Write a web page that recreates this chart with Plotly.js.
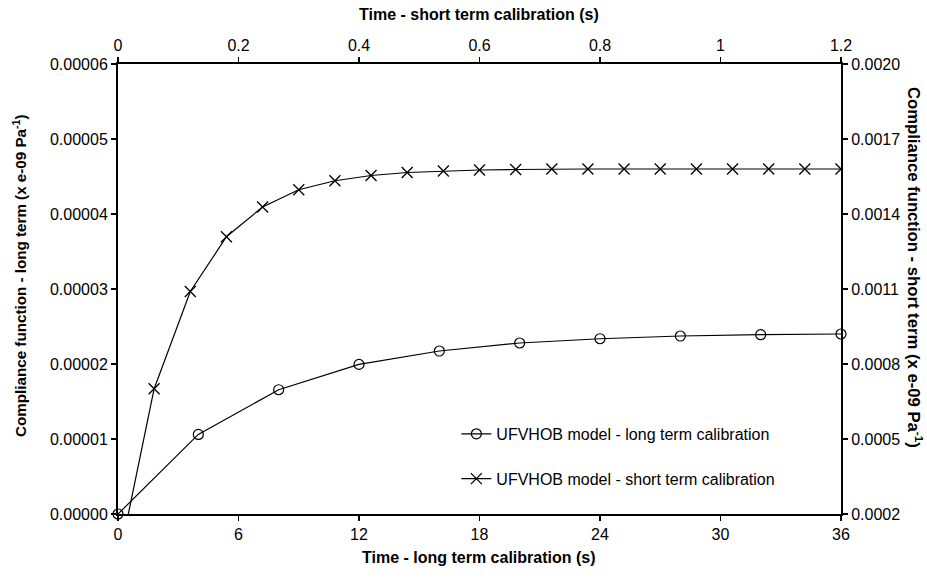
<!DOCTYPE html>
<html>
<head>
<meta charset="utf-8">
<script src="https://cdn.plot.ly/plotly-3.0.1.min.js"></script>
<style>html,body{margin:0;padding:0;background:#fff;}#chart{width:927px;height:581px;}</style>
</head>
<body>
<div id="chart"></div>
<script>
// Long term calibration (bottom x axis, left y axis)
const longTime = [0, 4, 8, 12, 16, 20, 24, 28, 32, 36];
const longCompliance = [0, 1.061e-5, 1.657e-5, 1.995e-5, 2.173e-5, 2.28e-5, 2.337e-5, 2.373e-5, 2.391e-5, 2.40e-5];

// Short term calibration (top x axis, right y axis)
const shortTime = [0, 0.06, 0.12, 0.18, 0.24, 0.30, 0.36, 0.42, 0.48, 0.54, 0.60, 0.66, 0.72, 0.78, 0.84, 0.90, 0.96, 1.02, 1.08, 1.14, 1.20];
const shortCompliance = [0, 0.000701, 0.00109, 0.001309, 0.001428, 0.001497, 0.001533, 0.001554, 0.001566, 0.001572, 0.001576, 0.001578, 0.00158, 0.00158, 0.00158, 0.00158, 0.00158, 0.00158, 0.00158, 0.00158, 0.00158];

const leftTicks = [0, 0.00001, 0.00002, 0.00003, 0.00004, 0.00005, 0.00006];
const rightTicks = [0.0002, 0.0005, 0.0008, 0.0011, 0.0014, 0.0017, 0.0020];
const bottomTicks = [0, 6, 12, 18, 24, 30, 36];
const topTicks = [0, 0.2, 0.4, 0.6, 0.8, 1, 1.2];
const topTickText = ['0', '0.2', '0.4', '0.6', '0.8', '1', '1.2'];

const seriesNames = ['UFVHOB model - long term calibration', 'UFVHOB model - short term calibration'];
const titles = {
  bottom: '<b>Time - long term calibration (s)</b>',
  top: '<b>Time - short term calibration (s)</b>',
  left: '<b>Compliance function - long term (x e-09 Pa<sup>-1</sup>)</b>',
  right: '<b>Compliance function - short term (x e-09 Pa<sup>-1</sup>)</b>'
};

const font = 'Liberation Sans, Arial, sans-serif';

const traces = [
  {
    x: longTime, y: longCompliance, xaxis: 'x', yaxis: 'y',
    type: 'scatter', mode: 'lines+markers',
    name: seriesNames[0],
    legendgroup: 'a',
    line: {color: '#000', width: 1.2},
    marker: {symbol: 'circle-open', size: 10, color: '#000', line: {width: 1.2}},
    cliponaxis: false
  },
  {
    x: shortTime, y: shortCompliance, xaxis: 'x2', yaxis: 'y2',
    type: 'scatter', mode: 'lines+markers',
    name: seriesNames[1],
    legendgroup: 'b',
    line: {color: '#000', width: 1.2},
    marker: {symbol: 'x-thin-open', size: 11, color: '#000', line: {width: 1.3, color: '#000'}}
  }
];

const axisCommon = {
  showgrid: false, zeroline: false, showline: true, linecolor: '#000', linewidth: 2,
  ticks: 'outside', ticklen: 5, tickwidth: 1.5, tickcolor: '#000',
  tickfont: {family: font, size: 16, color: '#000'}
};

const titleFont = (s) => ({family: font, size: s, color: '#000'});

const layout = {
  width: 927, height: 581,
  margin: {l: 118, r: 86, t: 64, b: 67, pad: 0},
  paper_bgcolor: '#fff', plot_bgcolor: '#fff',
  font: {family: font, color: '#000'},
  showlegend: true,
  legend: {
    x: 0.468, y: 0.128, xanchor: 'left', yanchor: 'middle',
    bgcolor: 'rgba(0,0,0,0)', borderwidth: 0,
    font: {family: font, size: 16, color: '#000'},
    traceorder: 'grouped', tracegroupgap: 21, itemwidth: 30
  },
  xaxis: Object.assign({}, axisCommon, {
    range: [0, 36], tickvals: bottomTicks, ticktext: bottomTicks.map(String)
  }),
  yaxis: Object.assign({}, axisCommon, {
    range: [0, 0.00006], tickvals: leftTicks, tickformat: '.5f'
  }),
  xaxis2: Object.assign({}, axisCommon, {
    overlaying: 'x', side: 'top', anchor: 'y',
    range: [0, 1.2], tickvals: topTicks, ticktext: topTickText
  }),
  yaxis2: Object.assign({}, axisCommon, {
    overlaying: 'y', side: 'right', anchor: 'x',
    range: [0.0002, 0.0020], tickvals: rightTicks, tickformat: '.4f'
  }),
  annotations: [
    {text: titles.bottom, xref: 'paper', yref: 'paper', x: 0.4993, y: -0.0956,
     xanchor: 'center', yanchor: 'middle', showarrow: false, font: titleFont(16)},
    {text: titles.top, xref: 'paper', yref: 'paper', x: 0.4993, y: 1.111,
     xanchor: 'center', yanchor: 'middle', showarrow: false, font: titleFont(16)},
    {text: titles.left, xref: 'paper', yref: 'paper', x: -0.1355, y: 0.529,
     xanchor: 'center', yanchor: 'middle', textangle: -90, showarrow: false, font: titleFont(15.2)},
    {text: titles.right, xref: 'paper', yref: 'paper', x: 1.1024, y: 0.549,
     xanchor: 'center', yanchor: 'middle', textangle: 90, showarrow: false, font: titleFont(16.7)}
  ]
};

Plotly.newPlot('chart', traces, layout, {displayModeBar: false, staticPlot: true});
</script>
</body>
</html>
